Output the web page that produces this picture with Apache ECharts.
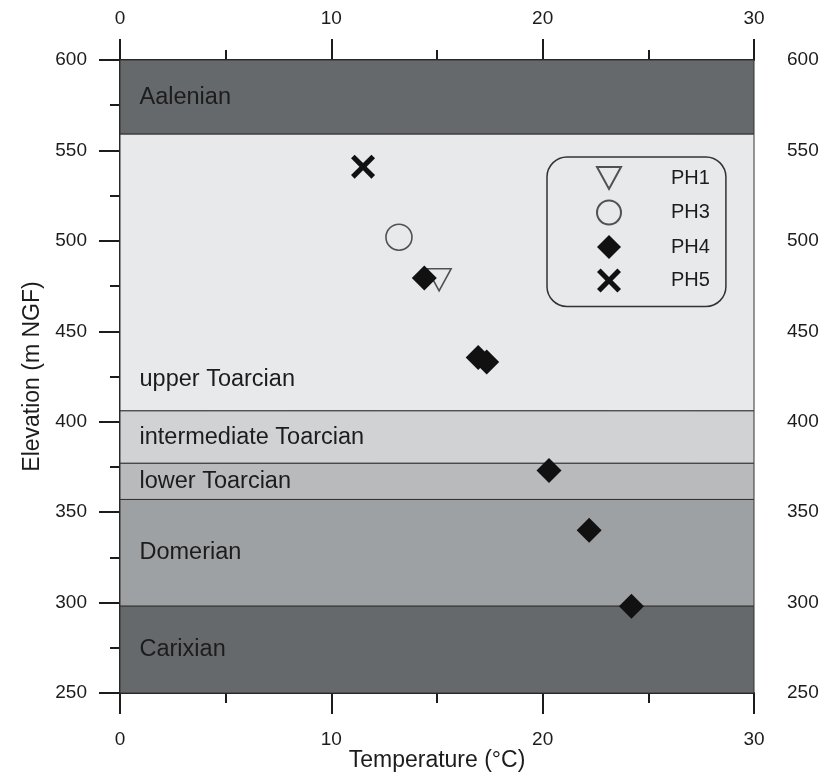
<!DOCTYPE html>
<html>
<head>
<meta charset="utf-8">
<script src="https://cdn.jsdelivr.net/npm/echarts@6/dist/echarts.min.js"></script>
<style>
  html, body { margin: 0; padding: 0; background: #fff; }
  #chart { width: 835px; height: 774px; }
</style>
</head>
<body>
<div id="chart"></div>
<script>
// stratigraphic intervals (elevation, m NGF)
const stageNames = ["Aalenian", "upper Toarcian", "intermediate Toarcian", "lower Toarcian", "Domerian", "Carixian"];
const stageTops = [600, 559, 406, 377, 357, 298];
const stageBottoms = [559, 406, 377, 357, 298, 250];

// temperature (°C), elevation (m NGF)
const ph1 = [[15.1, 478.5]];
const ph3 = [[13.2, 502]];
const ph4 = [[14.4, 479.5], [16.95, 435.5], [17.35, 433], [20.3, 373], [22.2, 340], [24.2, 298]];
const ph5 = [[11.5, 541]];

const bandColors = ["#66696c", "#e8e9ea", "#d1d2d4", "#b8babc", "#9ea1a3", "#66696c"];
const ink = "#1c1c1c";
const font = "Liberation Sans, Arial, sans-serif";

let areas = [];
for (let i = 0; i < stageNames.length; i++) {
  areas.push([
    {
      yAxis: stageBottoms[i],
      itemStyle: { color: bandColors[i] },
      label: {
        show: true,
        formatter: stageNames[i],
        position: i === 1 ? "insideBottomLeft" : "insideLeft",
        distance: 20,
      },
    },
    { yAxis: stageTops[i] },
  ]);
}

const crossPath = "path://M0,3 L3,0 L10,7 L17,0 L20,3 L13,10 L20,17 L17,20 L10,13 L3,20 L0,17 L7,10 Z";
const triPath = "path://M0,0 L24,0 L12,22 Z";

function xAxisOpt(pos) {
  return {
    type: "value",
    position: pos,
    min: 0,
    max: 30,
    interval: 10,
    name: pos === "bottom" ? "Temperature (°C)" : "",
    nameLocation: "middle",
    nameGap: 56,
    nameMoveOverlap: false,
    nameTextStyle: { fontSize: 23, color: ink, fontFamily: font },
    axisLine: { show: true, lineStyle: { color: ink, width: 2 } },
    axisTick: { show: true, length: 21, lineStyle: { color: ink, width: 2 } },
    minorTick: { show: true, splitNumber: 2, length: 10, lineStyle: { color: ink, width: 2 } },
    splitLine: { show: false },
    axisLabel: { fontSize: 19, color: ink, margin: pos === "bottom" ? 37 : 32, fontFamily: font },
  };
}

function yAxisOpt(pos) {
  return {
    type: "value",
    position: pos,
    min: 250,
    max: 600,
    interval: 50,
    name: pos === "left" ? "Elevation (m NGF)" : "",
    nameLocation: "middle",
    nameGap: 76,
    nameMoveOverlap: false,
    nameTextStyle: { fontSize: 23, color: ink, fontFamily: font },
    axisLine: { show: true, lineStyle: { color: ink, width: 2 } },
    axisTick: { show: true, length: 21, lineStyle: { color: ink, width: 2 } },
    minorTick: { show: true, splitNumber: 2, length: 10, lineStyle: { color: ink, width: 2 } },
    splitLine: { show: false },
    axisLabel: { fontSize: 19, color: ink, margin: 33, fontFamily: font },
  };
}

let myChart = echarts.init(document.getElementById("chart"), null, { renderer: "canvas" });
let option = {
  backgroundColor: "#fff",
  animation: false,
  textStyle: { fontFamily: font },
  grid: { left: 120, right: 81, top: 60, bottom: 81, outerBoundsMode: "none", containLabel: false },
  xAxis: [xAxisOpt("bottom"), xAxisOpt("top")],
  yAxis: [yAxisOpt("left"), yAxisOpt("right")],
  legend: {
    orient: "vertical",
    left: 547,
    top: 157,
    padding: [9, 16, 14, 49],
    itemWidth: 24,
    itemHeight: 24,
    itemGap: 9.5,
    borderColor: "#333",
    borderWidth: 1.5,
    borderRadius: 20,
    textStyle: { fontSize: 20, color: ink, fontFamily: font, padding: [0, 0, 0, 45] },
    data: ["PH1", "PH3", "PH4", "PH5"],
  },
  series: [
    {
      name: "bands",
      type: "scatter",
      data: [],
      silent: true,
      markArea: {
        silent: true,
        itemStyle: { borderColor: "#333", borderWidth: 1 },
        label: { fontSize: 23.5, color: ink, fontFamily: font },
        data: areas,
      },
    },
    {
      name: "PH1",
      type: "scatter",
      data: ph1,
      symbol: triPath,
      symbolSize: [24, 22],
      itemStyle: { color: "rgba(255,255,255,0)", borderColor: "#2a2a2a", borderWidth: 1.6 },
    },
    {
      name: "PH3",
      type: "scatter",
      data: ph3,
      symbol: "circle",
      symbolSize: 26,
      itemStyle: { color: "rgba(255,255,255,0)", borderColor: "#2a2a2a", borderWidth: 1.6 },
    },
    {
      name: "PH4",
      type: "scatter",
      data: ph4,
      symbol: "diamond",
      symbolSize: 25,
      itemStyle: { color: "#111", opacity: 1 },
    },
    {
      name: "PH5",
      type: "scatter",
      data: ph5,
      symbol: crossPath,
      symbolSize: 24,
      itemStyle: { color: "#111", opacity: 1 },
    },
  ],
};
myChart.setOption(option);
</script>
</body>
</html>
